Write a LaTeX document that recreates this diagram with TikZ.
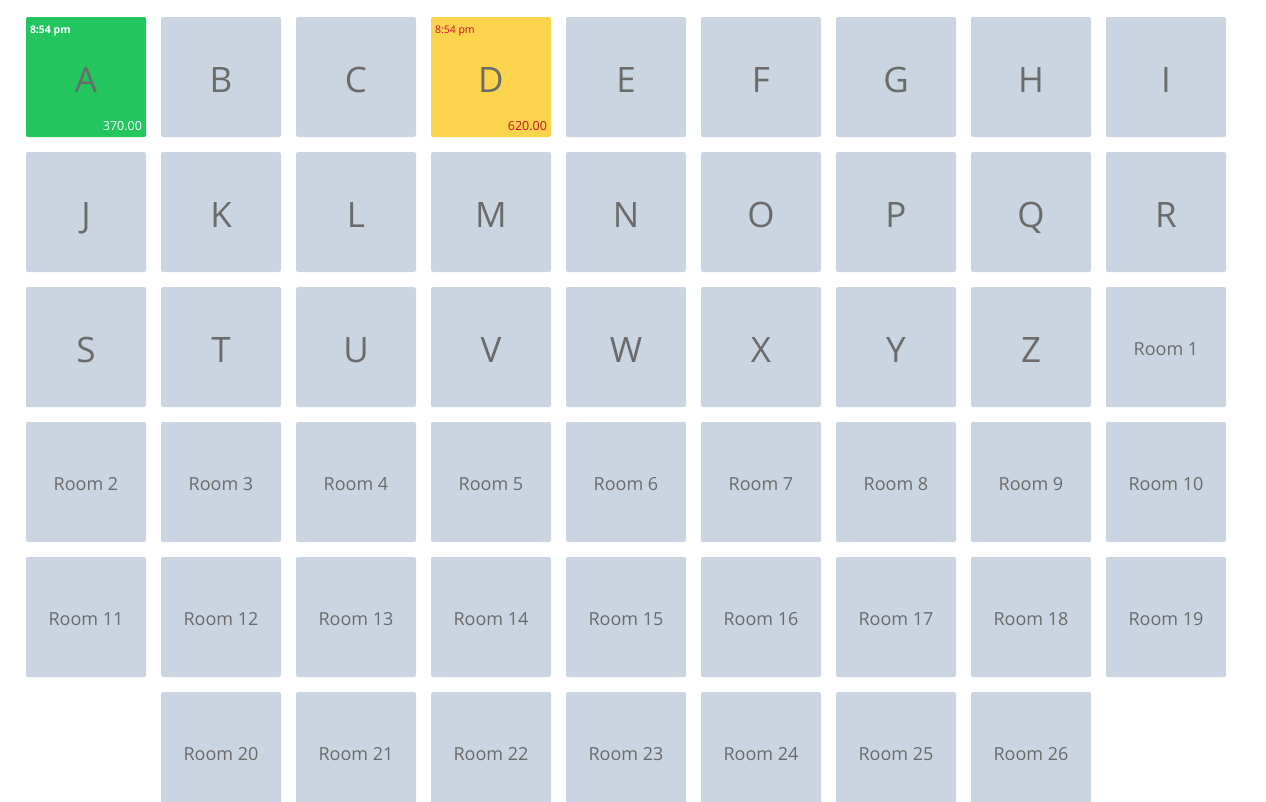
\documentclass[tikz,border=0pt]{standalone}
\usepackage{fontspec}
\setmainfont{Open Sans}
\definecolor{tilegray}{HTML}{CBD5E1}
\definecolor{tilegreen}{HTML}{22C55E}
\definecolor{tileyellow}{HTML}{FCD34D}
\definecolor{labelgray}{HTML}{6B6B6B}
\definecolor{timered}{HTML}{C8102E}
\tikzset{
  tile/.style={draw=none, fill=tilegray, rounded corners=2pt, minimum size=120pt, inner sep=0pt,
    text=labelgray, text height=31pt, text depth=0pt, font=\fontsize{35}{35}\selectfont},
  room/.style={text height=17pt, text depth=0pt, font=\fontsize{18}{18}\selectfont},
  busy/.style={fill=tilegreen},
  held/.style={fill=tileyellow},
  stamp/.style={inner sep=0pt, font=\fontsize{10.5}{11}\selectfont},
  amount/.style={inner sep=0pt, font=\fontsize{12.5}{13}\selectfont}
}
\begin{document}
\begin{tikzpicture}[x=1pt, y=-1pt]
  \useasboundingbox (0,0) rectangle (1266,801);
  \clip (0,0) rectangle (1266,801);
  % Tables
  \begin{scope}[shift={(86,77)}, xscale=135, yscale=135, every node/.style={tile}]
    \node[busy] (tA) at (0,0) {A};
    \node (tB) at (1,0) {B};
    \node (tC) at (2,0) {C};
    \node[held] (tD) at (3,0) {D};
    \node (tE) at (4,0) {E};
    \node (tF) at (5,0) {F};
    \node (tG) at (6,0) {G};
    \node (tH) at (7,0) {H};
    \node (tI) at (8,0) {I};

    \node (tJ) at (0,1) {J};
    \node (tK) at (1,1) {K};
    \node (tL) at (2,1) {L};
    \node (tM) at (3,1) {M};
    \node (tN) at (4,1) {N};
    \node (tO) at (5,1) {O};
    \node (tP) at (6,1) {P};
    \node (tQ) at (7,1) {Q};
    \node (tR) at (8,1) {R};

    \node (tS) at (0,2) {S};
    \node (tT) at (1,2) {T};
    \node (tU) at (2,2) {U};
    \node (tV) at (3,2) {V};
    \node (tW) at (4,2) {W};
    \node (tX) at (5,2) {X};
    \node (tY) at (6,2) {Y};
    \node (tZ) at (7,2) {Z};

    % Rooms
    \node[room] (r1) at (8,2) {Room 1};

    \node[room] (r2) at (0,3) {Room 2};
    \node[room] (r3) at (1,3) {Room 3};
    \node[room] (r4) at (2,3) {Room 4};
    \node[room] (r5) at (3,3) {Room 5};
    \node[room] (r6) at (4,3) {Room 6};
    \node[room] (r7) at (5,3) {Room 7};
    \node[room] (r8) at (6,3) {Room 8};
    \node[room] (r9) at (7,3) {Room 9};
    \node[room] (r10) at (8,3) {Room 10};

    \node[room] (r11) at (0,4) {Room 11};
    \node[room] (r12) at (1,4) {Room 12};
    \node[room] (r13) at (2,4) {Room 13};
    \node[room] (r14) at (3,4) {Room 14};
    \node[room] (r15) at (4,4) {Room 15};
    \node[room] (r16) at (5,4) {Room 16};
    \node[room] (r17) at (6,4) {Room 17};
    \node[room] (r18) at (7,4) {Room 18};
    \node[room] (r19) at (8,4) {Room 19};

    \node[room] (r20) at (1,5) {Room 20};
    \node[room] (r21) at (2,5) {Room 21};
    \node[room] (r22) at (3,5) {Room 22};
    \node[room] (r23) at (4,5) {Room 23};
    \node[room] (r24) at (5,5) {Room 24};
    \node[room] (r25) at (6,5) {Room 25};
    \node[room] (r26) at (7,5) {Room 26};
  \end{scope}

  % Open orders
  \node[stamp, text=white, font=\bfseries\fontsize{10.5}{11}\selectfont, anchor=north west] (tAtime) at ([shift={(4,8.5)}]tA.north west) {8:54 pm};
  \node[amount, text=white, anchor=south east] (tAsum) at ([shift={(-4,-6)}]tA.south east) {370.00};
  \node[stamp, text=timered, anchor=north west] (tDtime) at ([shift={(4,8.5)}]tD.north west) {8:54 pm};
  \node[amount, text=timered, anchor=south east] (tDsum) at ([shift={(-4,-6)}]tD.south east) {620.00};
\end{tikzpicture}
\end{document}
